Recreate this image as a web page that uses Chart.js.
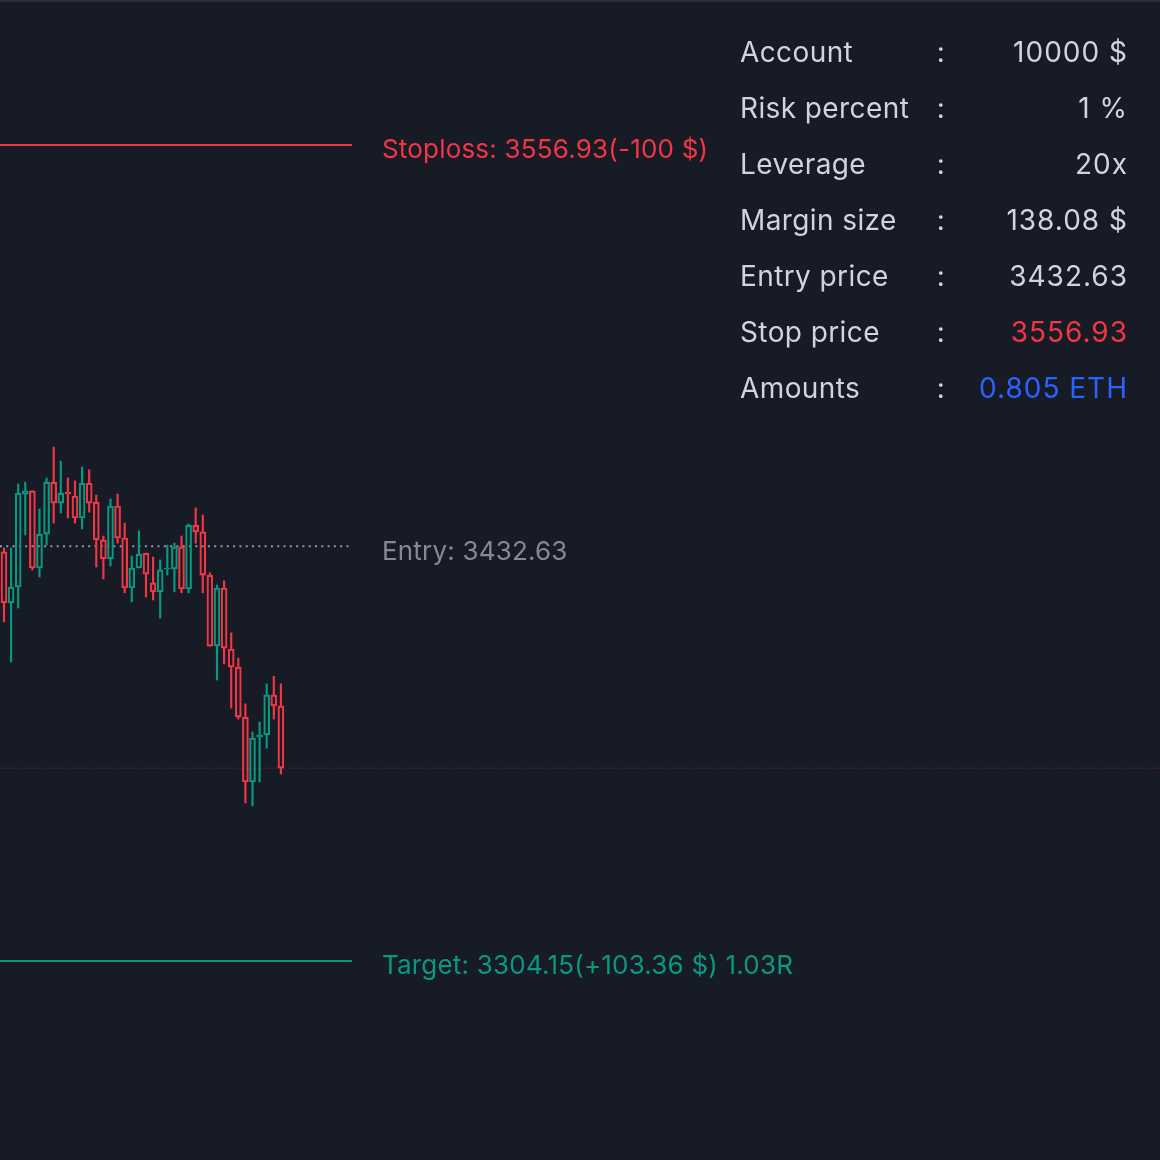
<!DOCTYPE html>
<html>
<head>
<meta charset="utf-8">
<title>Position calculator</title>
<script src="https://cdn.jsdelivr.net/npm/chart.js@4.4.1/dist/chart.umd.min.js"></script>
<style>
  html, body { margin: 0; padding: 0; background: #171b26; }
  #wrap { position: relative; width: 1160px; height: 1160px; overflow: hidden; background: #171b26; }
  #topline { position: absolute; left: 0; top: 0; width: 1160px; height: 2px; background: #2a2e39; }
  #info { position: absolute; left: 740px; top: 24px; width: 388px; border-collapse: collapse; table-layout: fixed;
          font-family: Inter, "Noto Sans", sans-serif; font-size: 28px; color: #d1d4dc; letter-spacing: 0.4px; }
  #info td { height: 56px; padding: 0; white-space: nowrap; }
  #info td.lbl { width: 196px; }
  #info td.sep { width: 10px; text-align: center; }
  #info td.val { text-align: right; letter-spacing: 1px; }
</style>
</head>
<body>
<div id="wrap">
  <canvas id="chart" width="1160" height="1160"></canvas>
  <div id="topline"></div>
  <table id="info"></table>
</div>
<script>
// candles, oldest first
var opens  = [3430.9, 3415.1, 3420.0, 3448.8, 3449.8, 3425.9, 3436.4, 3452.5, 3446.0, 3449.4,
              3448.2, 3441.4, 3452.2, 3446.3, 3434.6, 3428.7, 3445.1, 3435.2, 3419.7, 3425.9,
              3430.5, 3421.3, 3418.5, 3425.6, 3425.6, 3432.4, 3419.4, 3439.2, 3437.1, 3423.7,
              3401.7, 3419.7, 3400.8, 3395.2, 3379.7, 3359.6, 3373.5, 3374.2, 3386.6, 3383.2];
var highs  = [3432.1, 3432.1, 3451.9, 3452.5, 3449.8, 3444.2, 3453.8, 3463.4, 3459.0, 3453.8,
              3452.9, 3457.2, 3456.3, 3448.5, 3435.8, 3447.3, 3448.8, 3439.8, 3429.6, 3437.4,
              3430.5, 3429.3, 3428.4, 3433.0, 3433.6, 3435.8, 3439.5, 3444.5, 3442.3, 3424.4,
              3420.6, 3421.9, 3405.8, 3398.0, 3383.8, 3375.1, 3378.2, 3390.0, 3392.4, 3390.0];
var lows   = [3409.2, 3396.8, 3413.5, 3436.1, 3425.3, 3423.1, 3433.0, 3439.8, 3442.9, 3441.4,
              3439.8, 3438.0, 3443.2, 3426.2, 3422.5, 3426.5, 3433.6, 3418.2, 3415.4, 3425.9,
              3416.9, 3416.0, 3410.4, 3423.7, 3418.5, 3418.2, 3418.2, 3433.6, 3418.2, 3401.7,
              3391.2, 3396.2, 3382.5, 3379.1, 3353.1, 3352.2, 3359.6, 3370.1, 3379.1, 3362.1];
var closes = [3415.1, 3420.0, 3449.1, 3449.8, 3425.9, 3436.4, 3452.5, 3446.0, 3449.1, 3448.8,
              3441.4, 3452.2, 3446.0, 3434.6, 3428.7, 3445.1, 3435.2, 3419.7, 3425.9, 3430.2,
              3424.0, 3418.5, 3425.3, 3425.9, 3432.4, 3419.4, 3439.2, 3437.1, 3423.7, 3401.7,
              3419.7, 3401.1, 3395.2, 3379.7, 3359.6, 3373.2, 3374.2, 3386.6, 3383.2, 3363.9];

var stopPrice = 3556.93;
var entryPrice = 3432.63;
var targetPrice = 3304.15;
var lastPrice = closes[closes.length - 1];

var stopText = "Stoploss: 3556.93(-100 $)";
var entryText = "Entry: 3432.63";
var targetText = "Target: 3304.15(+103.36 $) 1.03R";

var infoLabels = ["Account", "Risk percent", "Leverage", "Margin size", "Entry price", "Stop price", "Amounts"];
var infoValues = ["10000 $", "1 %", "20x", "138.08 $", "3432.63", "3556.93", "0.805 ETH"];

var red = "#f23645";
var green = "#089981";
var textColor = "#d1d4dc";
var infoColors = [textColor, textColor, textColor, textColor, textColor, red, "#2962ff"];

// visible range of the pane
var xMin = -0.56, xMax = 162.8;
var yMin = 3242.51, yMax = 3601.85;
var levelEnd = 49; // bar index where the level lines stop

// side table
var table = document.getElementById("info");
for (var r = 0; r < infoLabels.length; r++) {
  var tr = document.createElement("tr");
  tr.innerHTML = '<td class="lbl"></td><td class="sep">:</td><td class="val"></td>';
  tr.children[0].textContent = infoLabels[r];
  tr.children[2].textContent = infoValues[r];
  tr.children[2].style.color = infoColors[r];
  table.appendChild(tr);
}

var candleColors = opens.map(function (o, i) { return closes[i] >= o ? green : red; });

var bodies = opens.map(function (o, i) { return { x: i, y: [o, closes[i]] }; });
var upperWicks = opens.map(function (o, i) { return { x: i, y: [Math.max(o, closes[i]), highs[i]] }; });
var lowerWicks = opens.map(function (o, i) { return { x: i, y: [lows[i], Math.min(o, closes[i])] }; });

function level(price, endX) {
  return [{ x: xMin, y: price }, { x: endX, y: price }];
}

var levelLabels = {
  id: "levelLabels",
  afterDatasetsDraw: function (chart) {
    var ctx = chart.ctx;
    var xs = chart.scales.x, ys = chart.scales.y;
    var left = xs.getPixelForValue(levelEnd) + 30;
    var items = [[stopText, stopPrice, red], [entryText, entryPrice, "#868993"], [targetText, targetPrice, green]];
    ctx.save();
    ctx.font = "26px Inter, 'Noto Sans', sans-serif";
    ctx.letterSpacing = "0.2px";
    ctx.textBaseline = "middle";
    ctx.textAlign = "left";
    items.forEach(function (it) {
      ctx.fillStyle = it[2];
      ctx.fillText(it[0], left, ys.getPixelForValue(it[1]) + 5.5);
    });
    ctx.restore();
  }
};

new Chart("chart", {
  type: "bar",
  data: {
    datasets: [
      { data: bodies, backgroundColor: "rgba(0,0,0,0)", borderColor: candleColors, borderWidth: 1.5,
        borderSkipped: false, barThickness: 6, grouped: false, order: 1 },
      { data: upperWicks, backgroundColor: candleColors, borderWidth: 0, barThickness: 1.5, grouped: false, order: 1 },
      { data: lowerWicks, backgroundColor: candleColors, borderWidth: 0, barThickness: 1.5, grouped: false, order: 1 },
      { type: "line", data: level(stopPrice, levelEnd), borderColor: red, borderWidth: 2, pointRadius: 0, order: 2 },
      { type: "line", data: level(entryPrice, levelEnd), borderColor: "#9598a1", borderWidth: 2,
        borderDash: [2, 4.3], pointRadius: 0, order: 2 },
      { type: "line", data: level(targetPrice, levelEnd), borderColor: green, borderWidth: 2, pointRadius: 0, order: 2 },
      { type: "line", data: level(lastPrice, xMax), borderColor: "rgba(242,54,69,0.35)", borderWidth: 1.5,
        borderDash: [1, 2], pointRadius: 0, order: 3 }
    ]
  },
  options: {
    responsive: false,
    animation: false,
    devicePixelRatio: 1,
    layout: { padding: 0 },
    plugins: { legend: { display: false }, tooltip: { enabled: false } },
    scales: {
      x: { type: "linear", min: xMin, max: xMax, offset: false, display: false },
      y: { min: yMin, max: yMax, beginAtZero: false, display: false }
    }
  },
  plugins: [levelLabels]
});
</script>
</body>
</html>
